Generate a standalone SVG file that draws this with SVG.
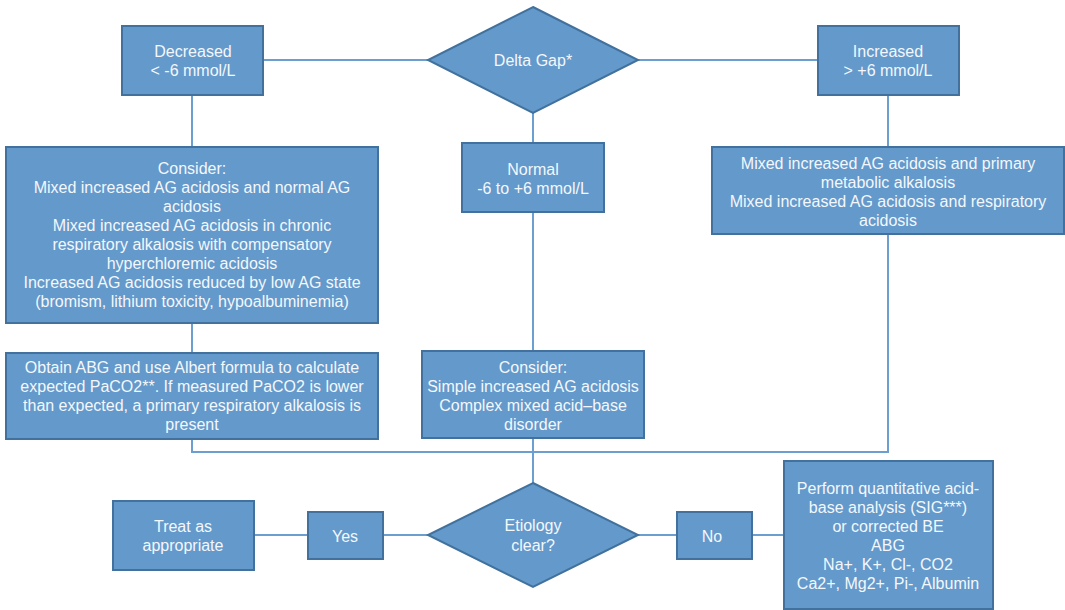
<svg xmlns="http://www.w3.org/2000/svg" width="1065" height="610" viewBox="0 0 1065 610">
<style>
.box{fill:#6399CB;stroke:#41719C;stroke-width:2}
.t{font-family:"Liberation Sans",Arial,sans-serif;font-size:16px;fill:#F4F7FB;text-anchor:middle}
.c{fill:none;stroke:#6C9FD0;stroke-width:2}
</style>
<rect width="1065" height="610" fill="#ffffff"/>
<g id="connectors">
<line class="c" x1="263" y1="60" x2="428" y2="60"/>
<line class="c" x1="638" y1="60" x2="818" y2="60"/>
<line class="c" x1="192" y1="95" x2="192" y2="147"/>
<line class="c" x1="533" y1="113" x2="533" y2="143"/>
<line class="c" x1="888" y1="95" x2="888" y2="147"/>
<line class="c" x1="192" y1="323" x2="192" y2="353"/>
<line class="c" x1="533" y1="212" x2="533" y2="351"/>
<polyline class="c" points="192,439 192,452 888,452 888,234"/>
<line class="c" x1="533" y1="438" x2="533" y2="483"/>
<line class="c" x1="254" y1="535" x2="308" y2="535"/>
<line class="c" x1="383" y1="535" x2="428" y2="535"/>
<line class="c" x1="638" y1="535" x2="677" y2="535"/>
<line class="c" x1="752" y1="535" x2="784" y2="535"/>
</g>
<g id="delta-gap">
<polygon class="box" points="533,7 638,60 533,113 428,60"/>
<text class="t" x="533" y="66">Delta Gap*</text>
</g>
<g id="decreased">
<rect class="box" x="122" y="26" width="141" height="69"/>
<text class="t" x="193" y="57">Decreased</text>
<text class="t" x="193" y="76">&lt; -6 mmol/L</text>
</g>
<g id="increased">
<rect class="box" x="818" y="26" width="141" height="69"/>
<text class="t" x="888" y="57">Increased</text>
<text class="t" x="888" y="76">&gt; +6 mmol/L</text>
</g>
<g id="consider-left">
<rect class="box" x="6" y="147" width="372" height="176"/>
<text class="t" x="192" y="174">Consider:</text>
<text class="t" x="192" y="193">Mixed increased AG acidosis and normal AG</text>
<text class="t" x="192" y="212">acidosis</text>
<text class="t" x="192" y="231">Mixed increased AG acidosis in chronic</text>
<text class="t" x="192" y="250">respiratory alkalosis with compensatory</text>
<text class="t" x="192" y="269">hyperchloremic acidosis</text>
<text class="t" x="192" y="288">Increased AG acidosis reduced by low AG state</text>
<text class="t" x="192" y="307">(bromism, lithium toxicity, hypoalbuminemia)</text>
</g>
<g id="normal">
<rect class="box" x="462" y="143" width="142" height="69"/>
<text class="t" x="533" y="175">Normal</text>
<text class="t" x="533" y="194">-6 to +6 mmol/L</text>
</g>
<g id="mixed-right">
<rect class="box" x="712" y="147" width="352" height="87"/>
<text class="t" x="888" y="169">Mixed increased AG acidosis and primary</text>
<text class="t" x="888" y="188">metabolic alkalosis</text>
<text class="t" x="888" y="207">Mixed increased AG acidosis and respiratory</text>
<text class="t" x="888" y="226">acidosis</text>
</g>
<g id="obtain-abg">
<rect class="box" x="6" y="353" width="372" height="86"/>
<text class="t" x="192" y="373">Obtain ABG and use Albert formula to calculate</text>
<text class="t" x="192" y="392">expected PaCO2**. If measured PaCO2 is lower</text>
<text class="t" x="192" y="411">than expected, a primary respiratory alkalosis is</text>
<text class="t" x="192" y="430">present</text>
</g>
<g id="consider-middle">
<rect class="box" x="422" y="351" width="222" height="87"/>
<text class="t" x="533" y="373">Consider:</text>
<text class="t" x="533" y="392">Simple increased AG acidosis</text>
<text class="t" x="533" y="411">Complex mixed acid–base</text>
<text class="t" x="533" y="430">disorder</text>
</g>
<g id="etiology">
<polygon class="box" points="533,483 638,535 533,587 428,535"/>
<text class="t" x="533" y="531">Etiology</text>
<text class="t" x="533" y="551">clear?</text>
</g>
<g id="yes">
<rect class="box" x="308" y="512" width="75" height="47"/>
<text class="t" x="345" y="542">Yes</text>
</g>
<g id="treat">
<rect class="box" x="113" y="501" width="141" height="69"/>
<text class="t" x="183" y="532">Treat as</text>
<text class="t" x="183" y="551">appropriate</text>
</g>
<g id="no">
<rect class="box" x="677" y="512" width="75" height="47"/>
<text class="t" x="712" y="542">No</text>
</g>
<g id="perform">
<rect class="box" x="784" y="461" width="209" height="148"/>
<text class="t" x="888" y="494">Perform quantitative acid-</text>
<text class="t" x="888" y="513">base analysis (SIG***)</text>
<text class="t" x="888" y="532">or corrected BE</text>
<text class="t" x="888" y="551">ABG</text>
<text class="t" x="888" y="570">Na+, K+, Cl-, CO2</text>
<text class="t" x="888" y="589">Ca2+, Mg2+, Pi-, Albumin</text>
</g>
</svg>
